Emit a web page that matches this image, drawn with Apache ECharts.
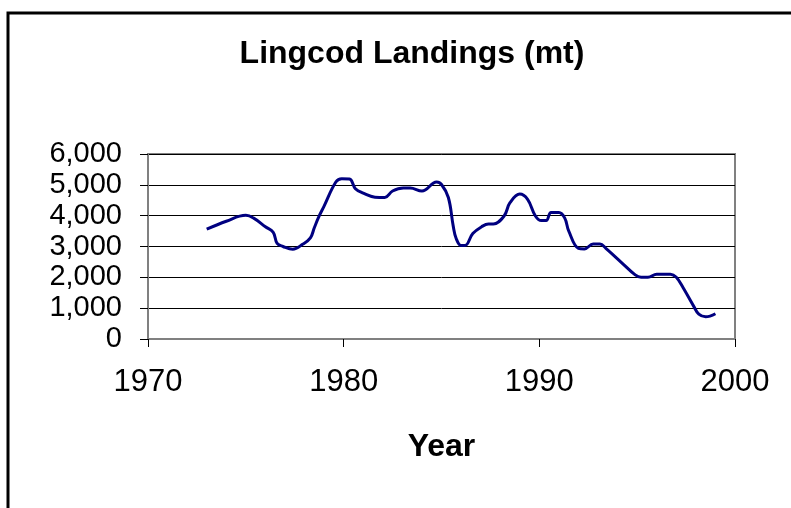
<!DOCTYPE html>
<html>
<head>
<meta charset="utf-8">
<script src="https://cdn.jsdelivr.net/npm/echarts@6/dist/echarts.min.js"></script>
<style>
  html, body { margin: 0; padding: 0; background: #fff; }
  #chart { width: 791px; height: 508px; }
</style>
</head>
<body>
<div id="chart"></div>
<script>
// values (year, metric tons)
const years = [
  1973.0, 1974.0, 1975.0, 1975.4, 1976.0, 1976.4, 1976.6, 1976.9, 1977.4, 1977.9,
  1978.3, 1978.5, 1978.75, 1979.0, 1979.6, 1979.9, 1980.3, 1980.6, 1981.0, 1981.6,
  1982.1, 1982.5, 1983.05, 1983.4, 1984.0, 1984.75, 1985.0, 1985.35, 1985.6, 1985.75,
  1986.0, 1986.2, 1986.6, 1987.05, 1987.4, 1987.65, 1988.2, 1988.5, 1989.0, 1989.4,
  1989.8, 1990.1, 1990.35, 1990.6, 1991.0, 1991.3, 1991.5, 1992.0, 1992.3, 1992.75,
  1993.1, 1993.4, 1994.2, 1994.9, 1995.2, 1995.55, 1996.0, 1996.7, 1997.0, 1997.35,
  1997.9, 1998.15, 1998.5, 1999.0
];
const landings = [
  3560, 3820, 4010, 3920, 3640, 3460, 3100, 3000, 2910, 3070,
  3280, 3610, 3990, 4310, 5090, 5200, 5190, 4875, 4730, 4600,
  4590, 4800, 4900, 4900, 4800, 5090, 5010, 4590, 3660, 3260,
  3030, 3030, 3420, 3640, 3730, 3730, 3990, 4420, 4700, 4530,
  3990, 3840, 3840, 4100, 4100, 3920, 3510, 2940, 2920, 3080,
  3080, 2940, 2480, 2080, 2000, 2000, 2100, 2100, 2000, 1660,
  1050, 805, 720, 820
];
const xTicks = [1970, 2000, 10];   // min, max, interval
const yTicks = [0, 6000, 1000];

const font = '"Liberation Sans", Arial, sans-serif';
const chart = echarts.init(document.getElementById('chart'));

chart.setOption({
  backgroundColor: '#fff',
  animation: false,
  title: {
    text: 'Lingcod Landings (mt)',
    left: 407,
    top: 33,
    textAlign: 'center',
    textStyle: { fontFamily: font, fontSize: 32, fontWeight: 'bold', color: '#000' }
  },
  graphic: [{
    type: 'rect',
    shape: { x: 8, y: 13, width: 800, height: 520 },
    style: { fill: 'none', stroke: '#000', lineWidth: 3 },
    silent: true
  }],
  grid: {
    left: 148, right: 56, top: 154, bottom: 169,
    show: true, borderColor: '#808080', borderWidth: 2
  },
  xAxis: {
    type: 'value',
    min: xTicks[0], max: xTicks[1], interval: xTicks[2],
    name: 'Year',
    nameLocation: 'middle',
    nameGap: 92,
    nameTextStyle: { fontFamily: font, fontSize: 32, fontWeight: 'bold', color: '#000' },
    axisLine: { onZero: false, lineStyle: { color: '#808080', width: 2 } },
    axisTick: { show: true, length: 8, lineStyle: { color: '#000', width: 1 } },
    axisLabel: { margin: 28, fontFamily: font, fontSize: 31, color: '#000', formatter: v => String(v) },
    splitLine: { show: false }
  },
  yAxis: {
    type: 'value',
    min: yTicks[0], max: yTicks[1], interval: yTicks[2],
    axisLine: { show: true, lineStyle: { color: '#808080', width: 2 } },
    axisTick: { show: true, length: 8, lineStyle: { color: '#000', width: 1 } },
    axisLabel: {
      margin: 26, fontFamily: font, fontSize: 29, color: '#000',
      formatter: v => v.toLocaleString('en-US')
    },
    splitLine: { show: true, lineStyle: { color: '#000', width: 1 } }
  },
  series: [{
    type: 'line',
    data: years.map((y, i) => [y, landings[i]]),
    smooth: 0.4,
    showSymbol: false,
    lineStyle: { color: '#000080', width: 3 }
  }]
});
</script>
</body>
</html>
